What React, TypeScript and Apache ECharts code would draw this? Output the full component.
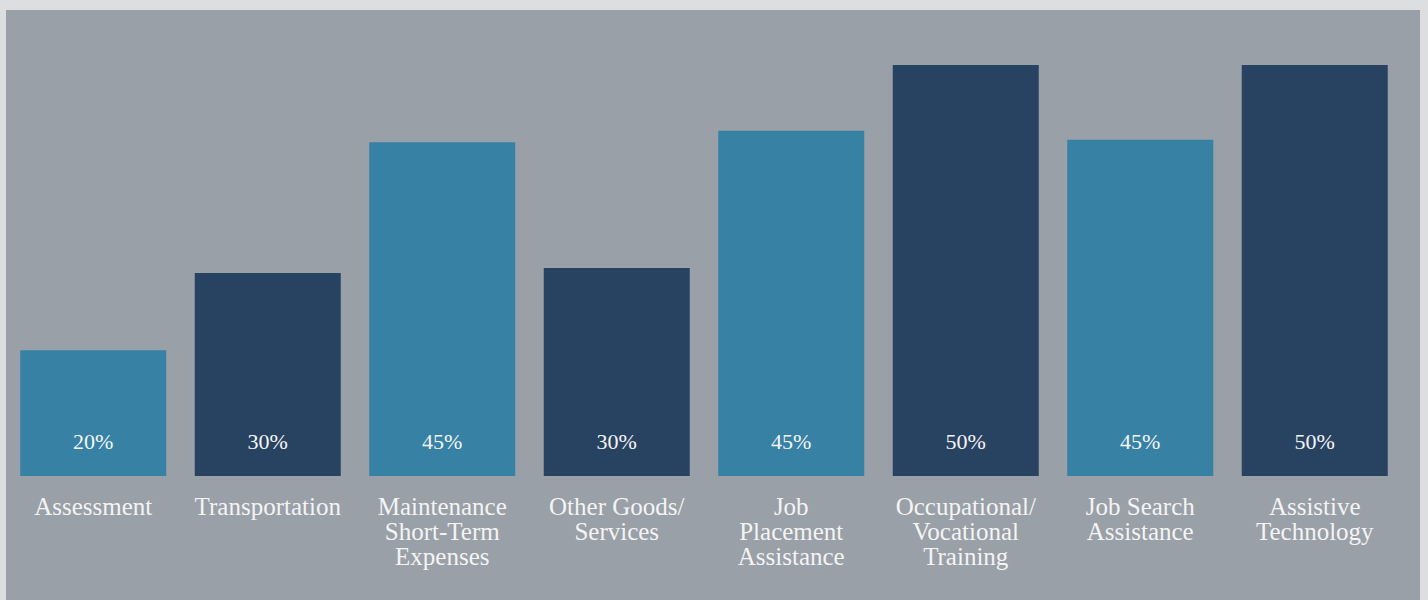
import React, { useEffect, useRef } from "react";
import * as echarts from "echarts";

const categories = [
  "Assessment",
  "Transportation",
  "Maintenance\nShort-Term\nExpenses",
  "Other Goods/\nServices",
  "Job\nPlacement\nAssistance",
  "Occupational/\nVocational\nTraining",
  "Job Search\nAssistance",
  "Assistive\nTechnology",
];
// printed labels
const percentLabels = ["20%", "30%", "45%", "30%", "45%", "50%", "45%", "50%"];
// drawn bar heights (relative units, tallest = 50)
const barHeights = [15.3, 24.7, 40.6, 25.3, 42.0, 50, 40.9, 50];
const palette = ["#3782a4", "#284262"];

export default function App() {
  const ref = useRef<HTMLDivElement>(null);
  useEffect(() => {
    if (!ref.current) return;
    const chart = echarts.init(ref.current, undefined, { renderer: "svg" });
    const font = "'Liberation Serif', 'DejaVu Serif', serif";
    chart.setOption({
      animation: false,
      backgroundColor: "#99a0a7",
      grid: { left: -4, right: 18, top: 55, bottom: 124, containLabel: false },
      xAxis: {
        type: "category",
        data: categories,
        axisLine: { show: false },
        axisTick: { show: false },
        axisLabel: {
          interval: 0,
          color: "#f4f4f4",
          fontFamily: font,
          fontSize: 25,
          lineHeight: 25,
          margin: 18,
        },
      },
      yAxis: { type: "value", min: 0, max: 50, show: false, splitLine: { show: false } },
      series: [
        {
          type: "bar",
          barWidth: 146,
          data: barHeights.map((v, i) => ({
            value: v,
            itemStyle: { color: palette[i % 2] },
            label: {
              show: true,
              position: "insideBottom",
              distance: 24,
              formatter: percentLabels[i],
              color: "#f4f4f4",
              fontFamily: font,
              fontSize: 22,
            },
          })),
        },
      ],
    });
    return () => chart.dispose();
  }, []);
  return (
    <div
      style={{
        position: "fixed",
        left: 0,
        top: 0,
        width: 1428,
        height: 600,
        background: "#dcdee0",
      }}
    >
      <div
        ref={ref}
        style={{ position: "absolute", left: 6, top: 10, width: 1414, height: 590 }}
      />
    </div>
  );
}
